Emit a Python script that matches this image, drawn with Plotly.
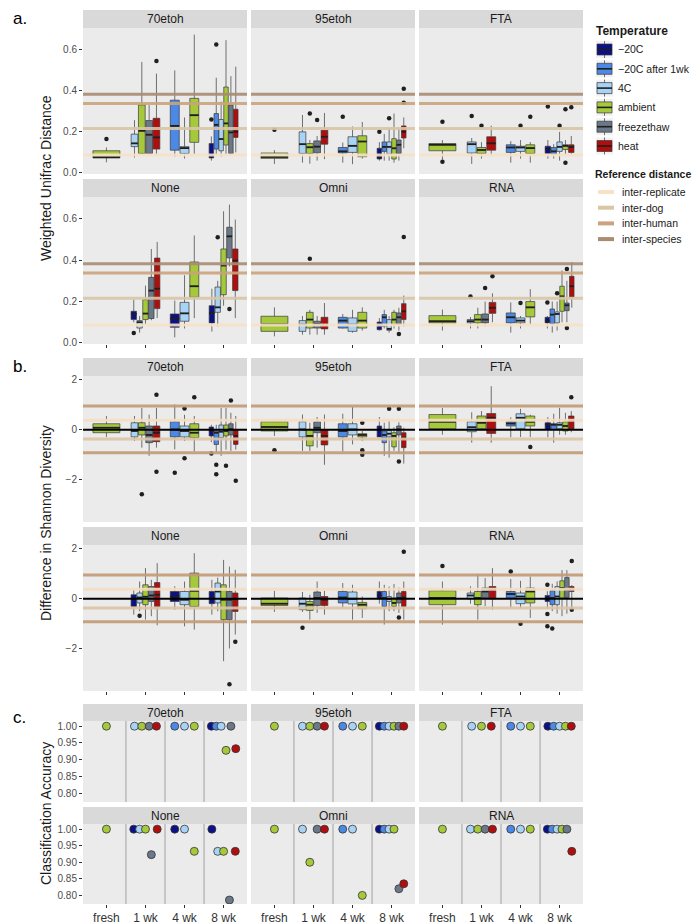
import plotly.graph_objects as go

W, H = 700, 924

TIMES = ["fresh", "1 wk", "4 wk", "8 wk"]
TEMP_KEYS = ["m20", "m20w", "4C", "amb", "ft", "heat"]
TEMP_LABELS = ["−20C", "−20C after 1wk", "4C", "ambient", "freezethaw", "heat"]
TEMP_COLORS = ["#0C1185", "#4C89E4", "#A9D3F5", "#A6C93C", "#6B7888", "#B00E0E"]
PRESERVATIVES = ["70etoh", "95etoh", "FTA", "None", "Omni", "RNA"]
REF_LABELS = ["inter-replicate", "inter-dog", "inter-human", "inter-species"]
REF_COLORS = ["#F8E2C6", "#D9C6A7", "#CBA37C", "#A98C72"]
UNIFRAC_REF_VALUES = [0.087, 0.216, 0.338, 0.383]
SHANNON_REF_VALUES = [0.95, 0.38, -0.37, -0.93]
SHANNON_REF_COLORS = ["#C29B76", "#F5DEC2", "#DDC4A5", "#C29B76"]

# (time index, temperature, lower whisker, q1, median, q3, upper whisker)
UNIFRAC_70ETOH = [
    (1, "amb", 0.052, 0.073, 0.077, 0.108, 0.124),
    (2, "4C", 0.075, 0.128, 0.144, 0.189, 0.257),
    (2, "amb", 0.09, 0.095, 0.205, 0.331, 0.54),
    (2, "ft", 0.09, 0.095, 0.186, 0.255, 0.33),
    (2, "heat", 0.09, 0.116, 0.173, 0.266, 0.483),
    (3, "m20w", 0.08, 0.111, 0.229, 0.354, 0.499),
    (3, "4C", 0.07, 0.095, 0.121, 0.128, 0.27),
    (3, "amb", 0.09, 0.149, 0.281, 0.363, 0.673),
    (4, "m20", 0.06, 0.073, 0.081, 0.143, 0.178),
    (4, "m20w", 0.09, 0.116, 0.234, 0.289, 0.463),
    (4, "4C", 0.08, 0.108, 0.165, 0.26, 0.347),
    (4, "amb", 0.09, 0.136, 0.241, 0.418, 0.646),
    (4, "ft", 0.09, 0.095, 0.197, 0.331, 0.471),
    (4, "heat", 0.1, 0.173, 0.2, 0.31, 0.517),
]
UNIFRAC_70ETOH_OUT = [(1, "amb", 0.165), (2, "heat", 0.544), (4, "m20", 0.26), (4, "m20w", 0.625)]

UNIFRAC_95ETOH = [
    (1, "amb", 0.044, 0.071, 0.078, 0.097, 0.111),
    (2, "4C", 0.05, 0.095, 0.14, 0.2, 0.282),
    (2, "amb", 0.045, 0.095, 0.125, 0.143, 0.16),
    (2, "ft", 0.06, 0.098, 0.128, 0.156, 0.18),
    (2, "heat", 0.067, 0.14, 0.176, 0.208, 0.292),
    (3, "m20w", 0.05, 0.097, 0.105, 0.124, 0.148),
    (3, "4C", 0.043, 0.1, 0.132, 0.176, 0.226),
    (3, "amb", 0.07, 0.079, 0.153, 0.181, 0.248),
    (4, "m20", 0.06, 0.068, 0.076, 0.12, 0.15),
    (4, "m20w", 0.06, 0.105, 0.127, 0.151, 0.19),
    (4, "4C", 0.06, 0.092, 0.127, 0.151, 0.22),
    (4, "amb", 0.05, 0.068, 0.12, 0.167, 0.289),
    (4, "ft", 0.06, 0.095, 0.137, 0.16, 0.22),
    (4, "heat", 0.12, 0.17, 0.2, 0.229, 0.27),
]
UNIFRAC_95ETOH_OUT = [(1, "amb", 0.21), (2, "amb", 0.289), (2, "ft", 0.257), (3, "m20w", 0.273),
                      (4, "m20", 0.2), (4, "4C", 0.266), (4, "heat", 0.41), (4, "heat", 0.341)]

UNIFRAC_FTA = [
    (1, "amb", 0.065, 0.108, 0.137, 0.143, 0.16),
    (2, "4C", 0.044, 0.097, 0.14, 0.151, 0.17),
    (2, "amb", 0.07, 0.095, 0.112, 0.124, 0.15),
    (2, "heat", 0.085, 0.111, 0.144, 0.176, 0.23),
    (3, "m20w", 0.05, 0.1, 0.124, 0.137, 0.155),
    (3, "4C", 0.07, 0.105, 0.124, 0.13, 0.16),
    (3, "amb", 0.05, 0.095, 0.121, 0.137, 0.15),
    (4, "m20", 0.07, 0.095, 0.115, 0.13, 0.16),
    (4, "m20w", 0.07, 0.092, 0.105, 0.124, 0.14),
    (4, "4C", 0.06, 0.105, 0.127, 0.151, 0.2),
    (4, "amb", 0.09, 0.114, 0.132, 0.137, 0.16),
    (4, "heat", 0.09, 0.1, 0.127, 0.137, 0.18),
]
UNIFRAC_FTA_OUT = [(1, "amb", 0.249), (1, "amb", 0.055), (2, "4C", 0.277), (2, "amb", 0.23),
                   (3, "4C", 0.23), (3, "amb", 0.273), (4, "m20", 0.323), (4, "4C", 0.23),
                   (4, "amb", 0.31), (4, "heat", 0.32), (4, "amb", 0.05)]

UNIFRAC_NONE = [
    (2, "m20", 0.1, 0.113, 0.14, 0.153, 0.21),
    (2, "4C", 0.05, 0.072, 0.1, 0.108, 0.13),
    (2, "amb", 0.09, 0.113, 0.142, 0.209, 0.277),
    (2, "ft", 0.11, 0.118, 0.253, 0.317, 0.454),
    (2, "heat", 0.12, 0.166, 0.262, 0.41, 0.488),
    (3, "m20", 0.027, 0.076, 0.118, 0.14, 0.205),
    (3, "4C", 0.07, 0.105, 0.143, 0.196, 0.327),
    (3, "amb", 0.12, 0.221, 0.274, 0.391, 0.519),
    (4, "m20", 0.055, 0.097, 0.145, 0.18, 0.262),
    (4, "4C", 0.08, 0.148, 0.172, 0.27, 0.3),
    (4, "amb", 0.18, 0.233, 0.374, 0.454, 0.636),
    (4, "ft", 0.37, 0.411, 0.515, 0.559, 0.668),
    (4, "heat", 0.12, 0.253, 0.398, 0.454, 0.596),
]
UNIFRAC_NONE_OUT = [(2, "m20", 0.048), (4, "4C", 0.51), (4, "ft", 0.164)]

UNIFRAC_OMNI = [
    (1, "amb", 0.032, 0.056, 0.09, 0.129, 0.172),
    (2, "4C", 0.04, 0.056, 0.089, 0.108, 0.13),
    (2, "amb", 0.04, 0.072, 0.113, 0.148, 0.16),
    (2, "ft", 0.04, 0.072, 0.092, 0.105, 0.13),
    (2, "heat", 0.04, 0.068, 0.089, 0.124, 0.193),
    (3, "m20w", 0.07, 0.072, 0.108, 0.124, 0.14),
    (3, "4C", 0.05, 0.056, 0.089, 0.121, 0.16),
    (3, "amb", 0.06, 0.072, 0.108, 0.148, 0.172),
    (4, "m20", 0.06, 0.064, 0.089, 0.101, 0.12),
    (4, "m20w", 0.07, 0.08, 0.124, 0.137, 0.16),
    (4, "4C", 0.05, 0.061, 0.068, 0.113, 0.13),
    (4, "amb", 0.07, 0.089, 0.113, 0.148, 0.16),
    (4, "ft", 0.06, 0.089, 0.124, 0.145, 0.17),
    (4, "heat", 0.08, 0.113, 0.153, 0.19, 0.229),
]
UNIFRAC_OMNI_OUT = [(2, "amb", 0.407), (4, "ft", 0.043), (4, "heat", 0.512)]

UNIFRAC_RNA = [
    (1, "amb", 0.06, 0.097, 0.105, 0.132, 0.161),
    (2, "4C", 0.07, 0.097, 0.105, 0.113, 0.125),
    (2, "amb", 0.07, 0.097, 0.113, 0.137, 0.17),
    (2, "ft", 0.08, 0.097, 0.113, 0.14, 0.2),
    (2, "heat", 0.1, 0.143, 0.17, 0.196, 0.24),
    (3, "m20w", 0.05, 0.097, 0.124, 0.145, 0.196),
    (3, "4C", 0.07, 0.097, 0.108, 0.121, 0.13),
    (3, "amb", 0.09, 0.126, 0.172, 0.2, 0.26),
    (4, "m20", 0.07, 0.097, 0.108, 0.124, 0.13),
    (4, "m20w", 0.05, 0.092, 0.137, 0.164, 0.2),
    (4, "4C", 0.06, 0.097, 0.14, 0.15, 0.2),
    (4, "amb", 0.1, 0.153, 0.225, 0.274, 0.35),
    (4, "ft", 0.1, 0.156, 0.182, 0.193, 0.3),
    (4, "heat", 0.17, 0.222, 0.274, 0.322, 0.391),
]
UNIFRAC_RNA_OUT = [(2, "4C", 0.225), (2, "ft", 0.266), (2, "heat", 0.322), (3, "4C", 0.193),
                   (4, "m20", 0.196), (4, "4C", 0.24), (4, "ft", 0.357), (4, "ft", 0.072)]

SHANNON_70ETOH = [
    (1, "amb", -0.29, -0.12, 0.08, 0.24, 0.55),
    (2, "4C", -0.45, -0.29, -0.05, 0.28, 0.55),
    (2, "amb", -0.72, -0.21, 0.08, 0.28, 0.88),
    (2, "ft", -1.05, -0.52, -0.21, 0.15, 0.61),
    (2, "heat", -0.72, -0.48, -0.12, 0.15, 0.88),
    (3, "m20w", -0.79, -0.29, 0.01, 0.32, 1.01),
    (3, "4C", -0.45, -0.29, -0.05, 0.15, 0.6),
    (3, "amb", -0.88, -0.32, -0.12, 0.24, 0.55),
    (4, "m20", -0.5, -0.25, -0.05, 0.11, 0.2),
    (4, "m20w", -0.9, -0.59, -0.12, -0.05, 0.2),
    (4, "4C", -1.05, -0.32, -0.08, 0.19, 0.88),
    (4, "amb", -0.8, -0.25, -0.05, 0.19, 0.88),
    (4, "ft", -0.85, -0.21, 0.02, 0.24, 0.68),
    (4, "heat", -0.8, -0.59, -0.25, 0.01, 0.55),
]
SHANNON_70ETOH_OUT = [(2, "amb", -2.59), (2, "heat", 1.41), (2, "heat", -1.69), (3, "m20w", -1.73),
                      (3, "4C", 0.85), (3, "4C", -1.15), (3, "amb", 1.31), (4, "m20", -0.96),
                      (4, "m20w", -1.41), (4, "m20w", -1.79), (4, "amb", -1.45), (4, "ft", 1.17),
                      (4, "heat", -2.05)]

SHANNON_95ETOH = [
    (1, "amb", -0.25, -0.05, 0.11, 0.32, 0.35),
    (2, "4C", -0.85, -0.29, 0.01, 0.32, 0.61),
    (2, "amb", -0.85, -0.65, -0.25, 0.01, 0.28),
    (2, "ft", -0.72, -0.12, 0.08, 0.32, 0.51),
    (2, "heat", -1.41, -0.61, -0.25, 0.01, 0.61),
    (3, "m20w", -0.88, -0.29, -0.05, 0.24, 0.64),
    (3, "4C", -0.59, -0.21, 0.01, 0.24, 0.91),
    (3, "amb", -0.45, -0.29, -0.21, -0.16, -0.05),
    (4, "m20", -0.3, -0.29, 0.0, 0.15, 0.51),
    (4, "m20w", -1.05, -0.52, -0.21, -0.05, 0.28),
    (4, "4C", -1.12, -0.29, -0.16, -0.03, 0.4),
    (4, "amb", -0.85, -0.69, -0.25, -0.12, 0.1),
    (4, "ft", -0.95, -0.21, 0.01, 0.15, 0.3),
    (4, "heat", -1.36, -0.72, -0.32, -0.12, 0.08),
]
SHANNON_95ETOH_OUT = [(1, "amb", -0.83), (3, "amb", 0.28), (3, "amb", -0.83), (3, "amb", -1.01),
                      (4, "4C", 0.84), (4, "ft", 0.84), (4, "ft", -1.28)]

SHANNON_FTA = [
    (1, "amb", -0.2, 0.04, 0.32, 0.61, 0.88),
    (2, "4C", -0.52, -0.08, 0.1, 0.32, 0.7),
    (2, "amb", 0.0, 0.04, 0.28, 0.55, 0.75),
    (2, "heat", -0.52, -0.15, 0.48, 0.65, 1.75),
    (3, "m20w", -0.3, 0.15, 0.25, 0.32, 0.5),
    (3, "4C", -0.29, 0.04, 0.48, 0.64, 0.84),
    (3, "amb", -0.29, 0.15, 0.32, 0.55, 0.6),
    (4, "m20", -0.3, 0.01, 0.21, 0.28, 0.51),
    (4, "m20w", -0.52, 0.01, 0.2, 0.24, 0.64),
    (4, "4C", -0.2, 0.04, 0.2, 0.28, 0.88),
    (4, "amb", -0.2, -0.05, 0.15, 0.32, 0.68),
    (4, "heat", -0.1, 0.01, 0.37, 0.55, 0.75),
]
SHANNON_FTA_OUT = [(3, "amb", -0.69), (4, "heat", 1.31)]

SHANNON_NONE = [
    (2, "m20", -0.64, -0.31, 0.0, 0.16, 0.36),
    (2, "4C", -0.5, -0.17, 0.05, 0.23, 0.69),
    (2, "amb", -0.84, -0.24, 0.08, 0.56, 1.23),
    (2, "ft", -0.7, -0.11, 0.13, 0.49, 0.76),
    (2, "heat", -1.07, -0.31, 0.16, 0.65, 1.43),
    (3, "m20", -0.44, -0.11, 0.09, 0.29, 0.5),
    (3, "4C", -1.11, -0.24, -0.04, 0.29, 0.69),
    (3, "amb", -1.24, -0.31, 0.32, 1.03, 1.83),
    (4, "m20", -0.64, -0.2, 0.03, 0.29, 0.76),
    (4, "4C", -0.5, -0.17, 0.29, 0.63, 0.85),
    (4, "amb", -2.51, -0.84, -0.04, 0.56, 1.56),
    (4, "ft", -2.0, -0.84, -0.04, 0.29, 1.29),
    (4, "heat", -1.44, -0.51, -0.02, 0.23, 1.16),
]
SHANNON_NONE_OUT = [(2, "4C", -0.68), (4, "ft", -3.44), (4, "heat", -1.73)]

SHANNON_OMNI = [
    (1, "amb", -0.53, -0.27, -0.2, 0.03, 0.32),
    (2, "4C", -0.53, -0.44, -0.2, 0.03, 0.27),
    (2, "amb", -0.84, -0.47, -0.24, -0.11, 0.16),
    (2, "ft", -0.57, -0.27, 0.03, 0.27, 0.69),
    (2, "heat", -0.64, -0.27, -0.04, 0.09, 0.32),
    (3, "m20w", -0.4, -0.17, 0.05, 0.29, 0.63),
    (3, "4C", -0.84, -0.21, 0.0, 0.27, 0.56),
    (3, "amb", -0.77, -0.4, -0.24, -0.15, 0.09),
    (4, "m20", -0.2, 0.0, 0.13, 0.29, 0.69),
    (4, "m20w", -1.04, -0.31, 0.03, 0.29, 0.56),
    (4, "4C", -0.5, -0.11, 0.0, 0.09, 0.49),
    (4, "amb", -0.5, -0.31, -0.17, 0.03, 0.59),
    (4, "ft", -0.57, -0.17, 0.03, 0.23, 0.45),
    (4, "heat", -0.84, -0.31, 0.05, 0.29, 0.69),
]
SHANNON_OMNI_OUT = [(2, "4C", -1.17), (4, "ft", -0.75), (4, "heat", 1.89)]

SHANNON_RNA = [
    (1, "amb", -1.04, -0.24, 0.03, 0.32, 0.69),
    (2, "4C", -0.2, 0.0, 0.13, 0.23, 0.5),
    (2, "amb", -0.84, -0.24, 0.03, 0.29, 0.99),
    (2, "ft", -0.3, 0.03, 0.29, 0.43, 0.83),
    (2, "heat", -0.44, 0.0, 0.36, 0.49, 1.23),
    (3, "m20w", -0.37, 0.03, 0.19, 0.29, 0.79),
    (3, "4C", -0.37, -0.2, 0.09, 0.23, 0.72),
    (3, "amb", -0.77, -0.17, 0.29, 0.43, 0.89),
    (4, "m20", -0.4, -0.11, 0.03, 0.13, 0.3),
    (4, "m20w", -0.5, -0.24, 0.03, 0.32, 0.6),
    (4, "4C", -0.6, -0.24, 0.09, 0.49, 0.7),
    (4, "amb", -0.7, 0.03, 0.43, 0.72, 1.15),
    (4, "ft", -0.6, 0.05, 0.36, 0.85, 1.15),
    (4, "heat", -0.44, 0.29, 0.36, 0.49, 0.55),
]
SHANNON_RNA_OUT = [(1, "amb", 1.32), (3, "m20w", 1.09), (3, "4C", -1.01), (4, "m20", 0.56),
                   (4, "m20", -0.61), (4, "m20", -1.11), (4, "m20w", -1.2), (4, "heat", 1.52),
                   (4, "heat", -0.44)]

# (time index, temperature, classification accuracy)
ACC_70ETOH = [(1, "amb", 1.0), (2, "4C", 1.0), (2, "amb", 1.0), (2, "ft", 1.0), (2, "heat", 1.0),
              (3, "m20w", 1.0), (3, "4C", 1.0), (3, "amb", 1.0), (4, "m20", 1.0), (4, "m20w", 1.0),
              (4, "4C", 1.0), (4, "amb", 0.928), (4, "ft", 1.0), (4, "heat", 0.933)]
ACC_95ETOH = [(1, "amb", 1.0), (2, "4C", 1.0), (2, "amb", 1.0), (2, "ft", 1.0), (2, "heat", 1.0),
              (3, "m20w", 1.0), (3, "4C", 1.0), (3, "amb", 1.0), (4, "m20", 1.0), (4, "m20w", 1.0),
              (4, "4C", 1.0), (4, "amb", 1.0), (4, "ft", 1.0), (4, "heat", 1.0)]
ACC_FTA = [(1, "amb", 1.0), (2, "4C", 1.0), (2, "amb", 1.0), (2, "heat", 1.0),
           (3, "m20w", 1.0), (3, "4C", 1.0), (3, "amb", 1.0), (4, "m20", 1.0), (4, "m20w", 1.0),
           (4, "4C", 1.0), (4, "amb", 1.0), (4, "heat", 1.0)]
ACC_NONE = [(1, "amb", 1.0), (2, "m20", 1.0), (2, "4C", 1.0), (2, "amb", 1.0), (2, "ft", 0.923),
            (2, "heat", 1.0), (3, "m20", 1.0), (3, "4C", 1.0), (3, "amb", 0.933), (4, "m20", 1.0),
            (4, "4C", 0.933), (4, "amb", 0.933), (4, "ft", 0.786), (4, "heat", 0.933)]
ACC_OMNI = [(1, "amb", 1.0), (2, "4C", 1.0), (2, "amb", 0.90), (2, "ft", 1.0), (2, "heat", 1.0),
            (3, "m20w", 1.0), (3, "4C", 1.0), (3, "amb", 0.80), (4, "m20", 1.0), (4, "m20w", 1.0),
            (4, "4C", 1.0), (4, "amb", 1.0), (4, "ft", 0.82), (4, "heat", 0.835)]
ACC_RNA = [(1, "amb", 1.0), (2, "4C", 1.0), (2, "amb", 1.0), (2, "ft", 1.0), (2, "heat", 1.0),
           (3, "m20w", 1.0), (3, "4C", 1.0), (3, "amb", 1.0), (4, "m20", 1.0), (4, "m20w", 1.0),
           (4, "4C", 1.0), (4, "amb", 1.0), (4, "ft", 1.0), (4, "heat", 0.933)]

UNIFRAC_BOXES = [UNIFRAC_70ETOH, UNIFRAC_95ETOH, UNIFRAC_FTA, UNIFRAC_NONE, UNIFRAC_OMNI, UNIFRAC_RNA]
UNIFRAC_OUTLIERS = [UNIFRAC_70ETOH_OUT, UNIFRAC_95ETOH_OUT, UNIFRAC_FTA_OUT, UNIFRAC_NONE_OUT,
                    UNIFRAC_OMNI_OUT, UNIFRAC_RNA_OUT]
SHANNON_BOXES = [SHANNON_70ETOH, SHANNON_95ETOH, SHANNON_FTA, SHANNON_NONE, SHANNON_OMNI, SHANNON_RNA]
SHANNON_OUTLIERS = [SHANNON_70ETOH_OUT, SHANNON_95ETOH_OUT, SHANNON_FTA_OUT, SHANNON_NONE_OUT,
                    SHANNON_OMNI_OUT, SHANNON_RNA_OUT]
ACC_POINTS = [ACC_70ETOH, ACC_95ETOH, ACC_FTA, ACC_NONE, ACC_OMNI, ACC_RNA]

# ---------------- layout geometry (pixels) ----------------
FONT = "Liberation Sans, Arial, sans-serif"
COL_X = [(75, 239), (243, 407), (411, 575)]
SECTIONS = [
    dict(rows=[(2, 20, 166), (171, 189, 336)], yrange=[-0.005, 0.705],
         tickvals=[0, 0.2, 0.4, 0.6], ticktext=["0.0", "0.2", "0.4", "0.6"],
         title="Weighted Unifrac Distance", title_y=170, label="a.", label_y=10),
    dict(rows=[(350, 368, 514), (519, 537, 683)], yrange=[-3.71, 2.16],
         tickvals=[-2, 0, 2], ticktext=["−2", "0", "2"],
         title="Difference in Shannon Diversity", title_y=515, label="b.", label_y=358),
    dict(rows=[(696, 713, 794), (799, 816, 896)], yrange=[0.774, 1.0155],
         tickvals=[0.8, 0.85, 0.9, 0.95, 1.0], ticktext=["0.80", "0.85", "0.90", "0.95", "1.00"],
         title="Classification Accuracy", title_y=806, label="c.", label_y=709),
]


def fx(p):
    return p / W


def fy(p):
    return 1 - p / H


def axid(k):
    return ("x" if k == 1 else f"x{k}"), ("y" if k == 1 else f"y{k}")


def dodge(rows):
    groups = {}
    for r in rows:
        groups.setdefault(r[0], []).append(r[1])
    pos = {}
    for t, temps in groups.items():
        present = [k for k in TEMP_KEYS if k in temps]
        slot = 0.75 / len(present)
        for i, k in enumerate(present):
            pos[(t, k)] = (t - 0.375 + slot * (i + 0.5), slot * 0.92)
    return pos


fig = go.Figure()
shapes, annotations = [], []
layout_axes = {}

for s, sec in enumerate(SECTIONS):
    for p in range(6):
        r, c = divmod(p, 3)
        k = s * 6 + p + 1
        xa, ya = axid(k)
        strip_top, top, bottom = sec["rows"][r]
        x0, x1 = COL_X[c]
        bottom_row = r == 1
        layout_axes["xaxis" if k == 1 else f"xaxis{k}"] = dict(
            domain=[fx(x0), fx(x1)], anchor=ya, range=[0.4, 4.6],
            showgrid=False, zeroline=False,
            tickvals=[1, 2, 3, 4], ticktext=TIMES,
            ticks="outside" if bottom_row else "", ticklen=3, tickcolor="#333333",
            showticklabels=(bottom_row and s == 2),
            tickfont=dict(family=FONT, size=12, color="#333333"))
        layout_axes["yaxis" if k == 1 else f"yaxis{k}"] = dict(
            domain=[fy(bottom), fy(top)], anchor=xa, range=sec["yrange"],
            showgrid=False, zeroline=False,
            tickvals=sec["tickvals"], ticktext=sec["ticktext"],
            ticks="outside" if c == 0 else "", ticklen=3, tickcolor="#333333",
            showticklabels=(c == 0),
            tickfont=dict(family=FONT, size=10, color="#4D4D4D"))
        # strip
        shapes.append(dict(type="rect", xref="paper", yref="paper", x0=fx(x0), x1=fx(x1),
                           y0=fy(top), y1=fy(strip_top), fillcolor="#D9D9D9", line=dict(width=0)))
        annotations.append(dict(xref="paper", yref="paper", x=fx((x0 + x1) / 2),
                                y=fy((strip_top + top) / 2), text=PRESERVATIVES[p], showarrow=False,
                                font=dict(family=FONT, size=12, color="#1A1A1A"),
                                xanchor="center", yanchor="middle"))

        if s < 2:
            rows = (UNIFRAC_BOXES if s == 0 else SHANNON_BOXES)[p]
            outs = (UNIFRAC_OUTLIERS if s == 0 else SHANNON_OUTLIERS)[p]
            pos = dodge(rows)
            mx, my = [], []
            for (t, tk, lo, q1, med, q3, hi) in rows:
                xpos, w = pos[(t, tk)]
                fig.add_trace(go.Box(
                    x=[xpos], q1=[q1], median=[med], q3=[q3], lowerfence=[lo], upperfence=[hi],
                    orientation="v", width=w, whiskerwidth=0, boxpoints=False,
                    fillcolor=TEMP_COLORS[TEMP_KEYS.index(tk)],
                    line=dict(color="#3A3A3A", width=0.7),
                    xaxis=xa, yaxis=ya, showlegend=False, hoverinfo="skip"))
                mx += [xpos - w / 2, xpos + w / 2, None]
                my += [med, med, None]
            fig.add_trace(go.Scatter(x=mx, y=my, mode="lines", line=dict(color="#1F1F1F", width=1.8),
                                     xaxis=xa, yaxis=ya, showlegend=False, hoverinfo="skip"))
            fig.add_trace(go.Scatter(x=[pos[(t, tk)][0] for t, tk, v in outs],
                                     y=[v for t, tk, v in outs], mode="markers",
                                     marker=dict(color="#1F1F1F", size=4.5),
                                     xaxis=xa, yaxis=ya, showlegend=False, hoverinfo="skip"))
            if s == 0:
                for v, col in zip(UNIFRAC_REF_VALUES, REF_COLORS):
                    shapes.append(dict(type="line", xref=f"{xa} domain", yref=ya, x0=0, x1=1,
                                       y0=v, y1=v, line=dict(color=col, width=3), opacity=0.9))
            else:
                for v, col in zip(SHANNON_REF_VALUES, SHANNON_REF_COLORS):
                    shapes.append(dict(type="line", xref=f"{xa} domain", yref=ya, x0=0, x1=1,
                                       y0=v, y1=v, line=dict(color=col, width=3), opacity=0.9))
                shapes.append(dict(type="line", xref=f"{xa} domain", yref=ya, x0=0, x1=1,
                                   y0=0, y1=0, line=dict(color="black", width=2)))
        else:
            pts = ACC_POINTS[p]
            pos = dodge(pts)
            for b in [1.5, 2.5, 3.5]:
                shapes.append(dict(type="line", xref=xa, yref=f"{ya} domain", x0=b, x1=b, y0=0, y1=1,
                                   line=dict(color="#A0A0A0", width=1), layer="below"))
            for tk, col in zip(TEMP_KEYS, TEMP_COLORS):
                sel = [(t, v) for t, k2, v in pts if k2 == tk]
                if not sel:
                    continue
                fig.add_trace(go.Scatter(
                    x=[pos[(t, tk)][0] for t, v in sel], y=[v for t, v in sel], mode="markers",
                    marker=dict(color=col, size=8, line=dict(color="#333333", width=0.8)),
                    xaxis=xa, yaxis=ya, showlegend=False, hoverinfo="skip"))

    annotations.append(dict(xref="paper", yref="paper", x=fx(38), y=fy(sec["title_y"]),
                            text=sec["title"], textangle=-90, showarrow=False,
                            font=dict(family=FONT, size=14, color="#1A1A1A"),
                            xanchor="center", yanchor="middle"))
    annotations.append(dict(xref="paper", yref="paper", x=fx(3), y=fy(sec["label_y"]),
                            text=sec["label"], showarrow=False,
                            font=dict(family=FONT, size=17, color="#000000"),
                            xanchor="left", yanchor="middle"))

# ---------------- manual legends ----------------
annotations.append(dict(xref="paper", yref="paper", x=fx(586), y=fy(23), text="<b>Temperature</b>",
                        showarrow=False, xanchor="left", yanchor="middle",
                        font=dict(family=FONT, size=12, color="#1A1A1A")))
for i, (lab, col) in enumerate(zip(TEMP_LABELS, TEMP_COLORS)):
    cy = 41.5 + i * 19.3
    shapes.append(dict(type="rect", xref="paper", yref="paper", x0=fx(588), x1=fx(605),
                       y0=fy(cy + 8.5), y1=fy(cy - 8.5), fillcolor="#F2F2F2", line=dict(width=0)))
    shapes.append(dict(type="line", xref="paper", yref="paper", x0=fx(596.5), x1=fx(596.5),
                       y0=fy(cy + 8.5), y1=fy(cy - 8.5), line=dict(color="#3A3A3A", width=0.7)))
    shapes.append(dict(type="rect", xref="paper", yref="paper", x0=fx(589), x1=fx(604),
                       y0=fy(cy + 5.5), y1=fy(cy - 5.5), fillcolor=col,
                       line=dict(color="#3A3A3A", width=0.7)))
    shapes.append(dict(type="line", xref="paper", yref="paper", x0=fx(589), x1=fx(604),
                       y0=fy(cy), y1=fy(cy), line=dict(color="#1F1F1F", width=1.6)))
    annotations.append(dict(xref="paper", yref="paper", x=fx(608), y=fy(cy), text=lab,
                            showarrow=False, xanchor="left", yanchor="middle",
                            font=dict(family=FONT, size=10.5, color="#1A1A1A")))

annotations.append(dict(xref="paper", yref="paper", x=fx(585), y=fy(166), text="<b>Reference distance</b>",
                        showarrow=False, xanchor="left", yanchor="middle",
                        font=dict(family=FONT, size=10.5, color="#1A1A1A")))
for i, (lab, col) in enumerate(zip(REF_LABELS, REF_COLORS)):
    cy = 184 + i * 15.7
    shapes.append(dict(type="line", xref="paper", yref="paper", x0=fx(590), x1=fx(606),
                       y0=fy(cy), y1=fy(cy), line=dict(color=col, width=4)))
    annotations.append(dict(xref="paper", yref="paper", x=fx(612), y=fy(cy), text=lab,
                            showarrow=False, xanchor="left", yanchor="middle",
                            font=dict(family=FONT, size=10.5, color="#1A1A1A")))

fig.update_layout(
    width=W, height=H, margin=dict(l=0, r=0, t=0, b=0, autoexpand=False),
    paper_bgcolor="white", plot_bgcolor="#EBEBEB", showlegend=False,
    hovermode=False, shapes=shapes, annotations=annotations,
    font=dict(family=FONT), boxmode="overlay", **layout_axes)

fig.write_html("out.html")
